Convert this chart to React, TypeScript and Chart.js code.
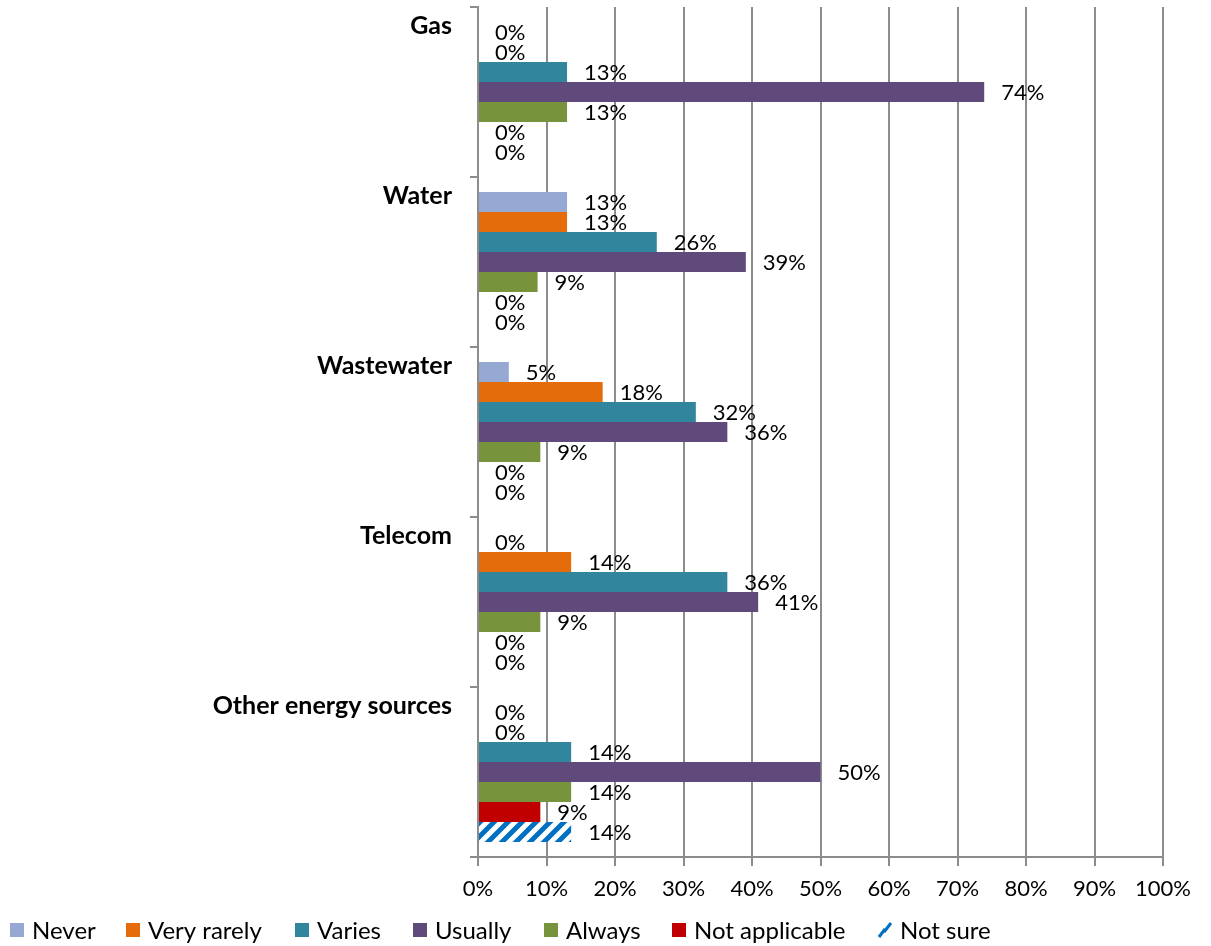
import React, { useEffect, useRef } from "react";
import { Chart, registerables } from "chart.js";

Chart.register(...registerables);

const categories = ["Gas", "Water", "Wastewater", "Telecom", "Other energy sources"];
const seriesNames = ["Never", "Very rarely", "Varies", "Usually", "Always", "Not applicable", "Not sure"];
const never = [0, 13.0, 4.5, 0, 0];
const veryRarely = [0, 13.0, 18.2, 13.6, 0];
const varies = [13.0, 26.1, 31.8, 36.4, 13.6];
const usually = [73.9, 39.1, 36.4, 40.9, 50.0];
const always = [13.0, 8.7, 9.1, 9.1, 13.6];
const notApplicable = [0, 0, 0, 0, 9.1];
const notSure = [0, 0, 0, 0, 13.6];
const xTicks = [0, 10, 20, 30, 40, 50, 60, 70, 80, 90, 100];

const seriesValues = [never, veryRarely, varies, usually, always, notApplicable, notSure];
const seriesColors = ["#95A9D3", "#E46C0A", "#31859C", "#604A7B", "#77933C", "#C00000", "#0070C0"];

const FONT = "Lato, 'Open Sans', sans-serif";

function makePattern(): CanvasPattern | string {
  const c = document.createElement("canvas");
  const size = 14;
  c.width = size;
  c.height = size;
  const g = c.getContext("2d");
  if (!g) return "#0070C0";
  g.fillStyle = "#ffffff";
  g.fillRect(0, 0, size, size);
  g.strokeStyle = "#0070C0";
  g.lineWidth = 5;
  g.beginPath();
  for (let k = -1; k <= 1; k++) {
    g.moveTo(k * size - 2, size + 2);
    g.lineTo(k * size + size + 2, -2);
  }
  g.stroke();
  const ctx = document.createElement("canvas").getContext("2d");
  return ctx ? (ctx.createPattern(c, "repeat") as CanvasPattern) : "#0070C0";
}

export default function App() {
  const ref = useRef<HTMLCanvasElement | null>(null);

  useEffect(() => {
    if (!ref.current) return;
    const pattern = makePattern();

    const datasets = seriesNames.map((name, i) => ({
      label: name,
      data: seriesValues[i],
      backgroundColor: i === 6 ? pattern : seriesColors[i],
      borderWidth: 0,
      categoryPercentage: 140 / 170,
      barPercentage: 1,
    }));

    const labelPlugin = {
      id: "customLabels",
      afterDatasetsDraw(chart: any) {
        const ctx = chart.ctx;
        ctx.save();
        ctx.fillStyle = "#000";
        ctx.font = `22px ${FONT}`;
        ctx.textAlign = "left";
        ctx.textBaseline = "middle";
        chart.data.datasets.forEach((ds: any, di: number) => {
          const meta = chart.getDatasetMeta(di);
          meta.data.forEach((el: any, j: number) => {
            const v = ds.data[j];
            ctx.fillText(`${Math.round(v)}%`, el.x + 17, el.y + 1);
          });
        });
        // category labels
        const yScale = chart.scales.y;
        ctx.font = `bold 25px ${FONT}`;
        ctx.textAlign = "right";
        const step = (yScale.bottom - yScale.top) / categories.length;
        categories.forEach((c, i) => {
          const top = yScale.top + step * i;
          ctx.fillText(c, 452, top + 19);
        });
        // legend
        const markers = [10, 126, 295, 413, 544, 672, 878];
        ctx.font = `24px ${FONT}`;
        ctx.textAlign = "left";
        const ly = 930;
        seriesNames.forEach((n, i) => {
          const mx = markers[i];
          if (i === 6) {
            ctx.fillStyle = "#ffffff";
            ctx.fillRect(mx, ly - 7, 14, 14);
            ctx.strokeStyle = "#0070C0";
            ctx.lineWidth = 3;
            ctx.beginPath();
            ctx.moveTo(mx + 1, ly + 7);
            ctx.lineTo(mx + 7, ly - 1);
            ctx.moveTo(mx + 6, ly + 2);
            ctx.lineTo(mx + 13, ly - 7);
            ctx.stroke();
          } else {
            ctx.fillStyle = seriesColors[i];
            ctx.fillRect(mx, ly - 7, 14, 14);
          }
          ctx.fillStyle = "#000";
          ctx.fillText(n, mx + 22, ly + 1);
        });
        ctx.restore();
      },
    };

    const chart = new Chart(ref.current, {
      type: "bar",
      data: { labels: categories, datasets },
      options: {
        indexAxis: "y",
        animation: false,
        responsive: false,
        maintainAspectRatio: false,
        layout: { padding: { top: 7, right: 48, left: 0, bottom: 0 } },
        plugins: {
          legend: { display: false },
          tooltip: { enabled: false },
        },
        scales: {
          x: {
            min: 0,
            max: 100,
            afterBuildTicks: (scale: any) => {
              scale.ticks = xTicks.map((v) => ({ value: v }));
            },
            afterFit: (scale: any) => {
              scale.height = 89;
            },
            ticks: {
              callback: (v: any) => `${v}%`,
              color: "#000",
              font: { family: FONT, size: 22 },
              padding: 10,
              maxRotation: 0,
              autoSkip: false,
            },
            grid: {
              color: "#8C8C8C",
              lineWidth: 2,
              drawTicks: true,
              tickLength: 9,
            },
            border: { color: "#8C8C8C", width: 2 },
          },
          y: {
            afterFit: (scale: any) => {
              scale.width = 478;
            },
            ticks: { display: false },
            grid: {
              offset: true,
              drawOnChartArea: false,
              drawTicks: true,
              tickLength: 8,
              color: "#8C8C8C",
              lineWidth: 2,
            },
            border: { color: "#8C8C8C", width: 2 },
          },
        },
      },
      plugins: [labelPlugin],
    });
    return () => chart.destroy();
  }, []);

  return (
    <div style={{ position: "fixed", left: 0, top: 0, width: 1211, height: 946, background: "#fff" }}>
      <canvas ref={ref} width={1211} height={946} style={{ display: "block", width: 1211, height: 946 }} />
    </div>
  );
}
